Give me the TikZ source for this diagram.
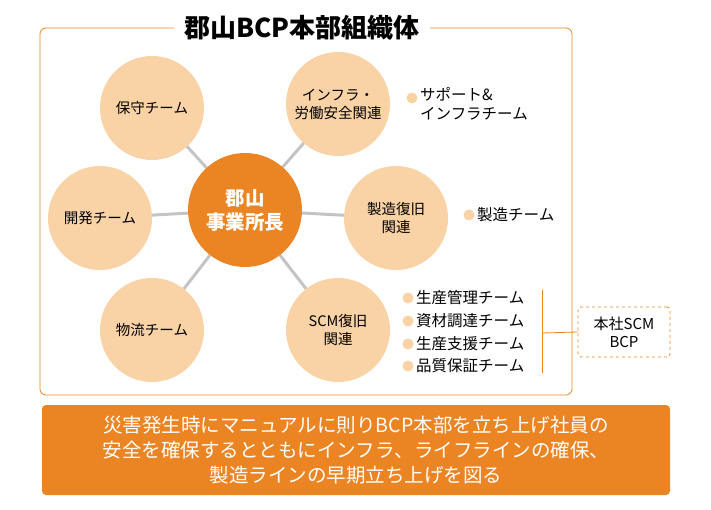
\documentclass[tikz,border=0pt]{standalone}
\usepackage{fontspec}
\newfontfamily\cjk{Noto Sans CJK JP}
\definecolor{bcporange}{HTML}{EB8423}
\definecolor{bcppeach}{HTML}{F9D2A6}
\definecolor{bcpgrey}{HTML}{C4C4C4}
\begin{document}
\begin{tikzpicture}[
    x=1pt, y=-1pt,
    font=\cjk,
    team/.style = {circle, fill=bcppeach, minimum size=104pt, inner sep=1pt, align=center, font=\cjk\fontsize{14.5}{18}\selectfont},
    chief/.style = {circle, fill=bcporange, minimum size=114pt, align=center, text=white, font=\cjk\bfseries\fontsize{19.5}{24}\selectfont},
    member/.style = {anchor=west, align=left, inner sep=1pt, font=\cjk\fontsize{15.5}{19}\selectfont},
    dot/.style = {circle, fill=bcppeach, inner sep=0pt, minimum size=11pt}
]
\useasboundingbox (0,0) rectangle (711,510);

% Frame and title
\draw[bcporange, thick, rounded corners=6pt] (40,28) rectangle (572,395);
\node[fill=white, inner xsep=10pt, font=\cjk\bfseries\fontsize{26}{30}\selectfont] (title) at (302,28) {郡山BCP本部組織体};

% Circle centres
\coordinate (c0) at (245,210);
\coordinate (c1) at (152,108);
\coordinate (c2) at (338,104);
\coordinate (c3) at (100,218);
\coordinate (c4) at (396,218);
\coordinate (c5) at (152,330);
\coordinate (c6) at (338,330);

% Spokes
\foreach \i in {1,...,6}
    \draw[bcpgrey, line width=3pt] (c0) -- (c\i);

% Center and teams
\node[chief] (head) at (c0) {郡山\\事業所長};
\node[team] (hoshu)    at (c1) {保守チーム};
\node[team] (infra)    at (c2) {インフラ・\\労働安全関連};
\node[team] (kaihatsu) at (c3) {開発チーム};
\node[team] (seizo)    at (c4) {製造復旧\\関連};
\node[team] (butsu)    at (c5) {物流チーム};
\node[team] (scm)      at (c6) {SCM復旧\\関連};

% Member teams
\node[dot] (dot1) at (412,98) {};
\node[member, anchor=north west] (support) at (419,86) {サポート\&\\インフラチーム};
\node[dot] (dot2) at (469,215) {};
\node[member] (seizoteam) at (476,215) {製造チーム};
\foreach \n/\y/\l in {a/298/生産管理チーム, b/321/資材調達チーム, c/344/生産支援チーム, d/366/品質保証チーム} {
    \node[dot] (dot\n) at (408,\y) {};
    \node[member] (m\n) at (415,\y) {\l};
}

% Bracket to head office
\coordinate (btop) at (542,290);
\coordinate (bbot) at (542,373);
\coordinate (bmid) at (542,333);
\draw[bcporange, thick] (btop) -- (bbot);
\node[draw=bcporange, thick, dashed, rounded corners=3pt, minimum width=92pt, minimum height=50pt, align=center, font=\cjk\fontsize{15}{18}\selectfont] (hq) at (624,332) {本社SCM\\BCP};
\draw[bcporange, thick] (bmid) -- (hq.west);

% Policy box
\node[fill=bcporange, rounded corners=4pt, minimum width=628pt, minimum height=90pt, align=center, text=white, font=\cjk\fontsize{19.5}{25}\selectfont] (policy) at (356,450)
    {災害発生時にマニュアルに則りBCP本部を立ち上げ社員の\\安全を確保するとともにインフラ、ライフラインの確保、\\製造ラインの早期立ち上げを図る};
\end{tikzpicture}
\end{document}
